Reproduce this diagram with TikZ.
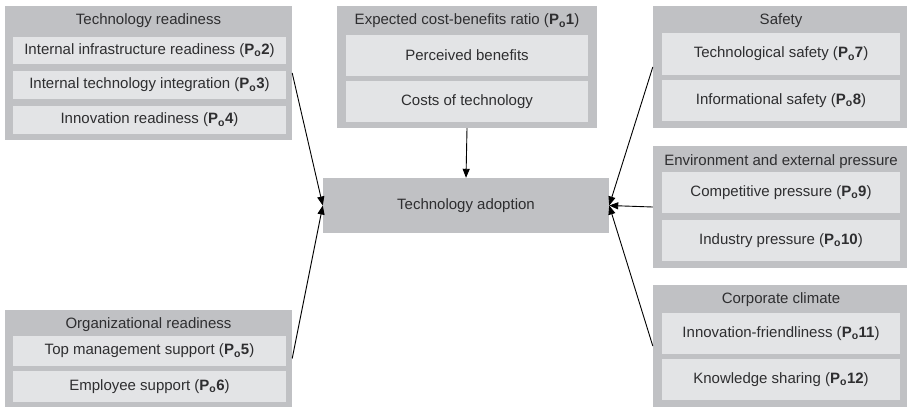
\documentclass[tikz,border=0pt]{standalone}
\usepackage{fontspec}
\setmainfont{Liberation Sans}
\usetikzlibrary{arrows.meta}

\definecolor{outergray}{HTML}{C0C1C4}
\definecolor{innergray}{HTML}{E3E4E6}
\definecolor{textgray}{HTML}{2E2E30}

\newcommand{\pofac}[1]{\textbf{P\textsubscript{o}#1}}

\begin{document}
\begin{tikzpicture}[
        x=1pt, y=-1pt,
        font=\fontsize{15}{17}\selectfont,
        group/.style={rectangle, fill=outergray, inner sep=0pt},
        item/.style={rectangle, fill=innergray, inner sep=0pt, text=textgray},
        heading/.style={text=textgray, inner sep=0pt},
        target/.style={rectangle, fill=outergray, inner sep=0pt, text=textgray, minimum width=286pt, minimum height=55pt},
        influence/.style={-{Triangle[length=9pt, width=7pt]}, line width=0.9pt, black},
    ]
        \useasboundingbox (0,0) rectangle (907,408);

        % groups
        \node[group, minimum width=287pt, minimum height=134pt] (techready) at (148.5,73) {};
        \node[group, minimum width=260pt, minimum height=122pt] (costben) at (467,67) {};
        \node[group, minimum width=287pt, minimum height=97pt] (orgready) at (148.5,358.5) {};
        \node[group, minimum width=254pt, minimum height=122pt] (safety) at (780,67) {};
        \node[group, minimum width=254pt, minimum height=122pt] (environ) at (780,207) {};
        \node[group, minimum width=254pt, minimum height=122pt] (climate) at (780,346) {};

        \node[target] (adoption) at (466,205.5) {Technology adoption};

        % headings
        \node[heading] (techready_t) at (148.5,21) {Technology readiness};
        \node[heading] (costben_t) at (467,21) {Expected cost-benefits ratio (\pofac{1})};
        \node[heading] (orgready_t) at (148.5,325) {Organizational readiness};
        \node[heading] (safety_t) at (781,21) {Safety};
        \node[heading] (environ_t) at (781,162) {Environment and external pressure};
        \node[heading] (climate_t) at (781,300) {Corporate climate};

        % items
        \node[item, minimum width=273pt, minimum height=27.5pt] (techready_1) at (149.5,50.5) {Internal infrastructure readiness (\pofac{2})};
        \node[item, minimum width=273pt, minimum height=27.5pt] (techready_2) at (149.5,85) {Internal technology integration (\pofac{3})};
        \node[item, minimum width=273pt, minimum height=27.5pt] (techready_3) at (149.5,120) {Innovation readiness (\pofac{4})};

        \node[item, minimum width=242pt, minimum height=41pt] (costben_1) at (467,55.5) {Perceived benefits};
        \node[item, minimum width=242pt, minimum height=41pt] (costben_2) at (467,101.5) {Costs of technology};

        \node[item, minimum width=273pt, minimum height=30.5pt] (orgready_1) at (149.5,351) {Top management support (\pofac{5})};
        \node[item, minimum width=273pt, minimum height=30.5pt] (orgready_2) at (149.5,386.5) {Employee support (\pofac{6})};

        \node[item, minimum width=238pt, minimum height=41.5pt] (safety_1) at (781,54) {Technological safety (\pofac{7})};
        \node[item, minimum width=238pt, minimum height=41.5pt] (safety_2) at (781,100.5) {Informational safety (\pofac{8})};

        \node[item, minimum width=238pt, minimum height=41pt] (environ_1) at (781,192.5) {Competitive pressure (\pofac{9})};
        \node[item, minimum width=238pt, minimum height=41pt] (environ_2) at (781,240.5) {Industry pressure (\pofac{10})};

        \node[item, minimum width=238pt, minimum height=41pt] (climate_1) at (781,333.5) {Innovation-friendliness (\pofac{11})};
        \node[item, minimum width=238pt, minimum height=41pt] (climate_2) at (781,379.5) {Knowledge sharing (\pofac{12})};

        % influences
        \draw[influence] (techready.east) -- (adoption.west);
        \draw[influence] (orgready.east) -- (adoption.west);
        \draw[influence] (costben.south) -- (adoption.north);
        \draw[influence] (safety.west) -- (adoption.east);
        \draw[influence] (environ.west) -- (adoption.east);
        \draw[influence] (climate.west) -- (adoption.east);
    \end{tikzpicture}
\end{document}
